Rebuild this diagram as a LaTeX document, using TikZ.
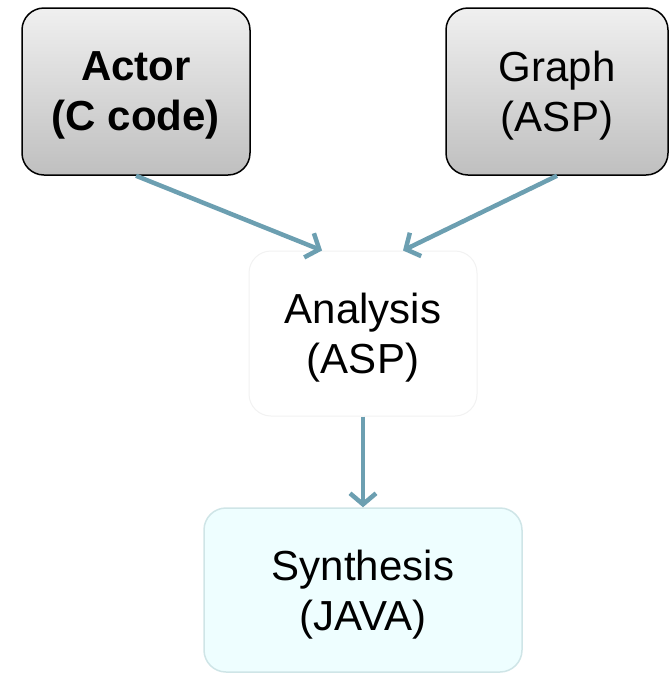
\documentclass[tikz,border=0pt]{standalone}
\usepackage{fontspec}
\setmainfont{Liberation Sans}
\usetikzlibrary{arrows.meta, positioning}
\usepackage{xcolor}
\definecolor{arrowblue}{HTML}{6C9FB1}
\definecolor{synthfill}{HTML}{EEFEFF}
\definecolor{synthline}{HTML}{CFE5E7}

\begin{document}
\begin{tikzpicture}[x=1pt, y=-1pt,
box/.style={rectangle, 
rounded corners=22pt, 
minimum width=228pt, 
minimum height=167pt, 
align=center, 
text depth=0pt, 
font=\fontsize{42}{50}\selectfont}, 
graybox/.style={box, draw=black, line width=1.5pt, 
top color=gray!12, bottom color=gray!50}, 
arrow/.style={-{Straight Barb[length=11pt, width=26pt, line width=4.5pt]}, line width=4.5pt, arrowblue} 
]
\useasboundingbox (0,0) rectangle (669,673);

\node[graybox] (actor) at (136,91.5) {\textbf{Actor}\\\textbf{(C code)}}; 
\node[graybox, minimum width=222pt] (graph) at (557,91.5) {Graph\\(ASP)}; 
\node[box, draw=gray!10, line width=1pt, fill=white, minimum height=165pt] (analysis) at (363,333.5) {Analysis\\(ASP)}; 
\node[box, draw=synthline, line width=1.5pt, fill=synthfill, minimum width=318pt, minimum height=164pt] (synthesis) at (363,590) {Synthesis\\(JAVA)};

\draw[arrow] (actor.south) -- ([xshift=-41pt]analysis.north); 
\draw[arrow] (graph.south) -- ([xshift=40pt]analysis.north); 
\draw[arrow] (analysis.south) -- (synthesis.north);

\end{tikzpicture}
\end{document}
